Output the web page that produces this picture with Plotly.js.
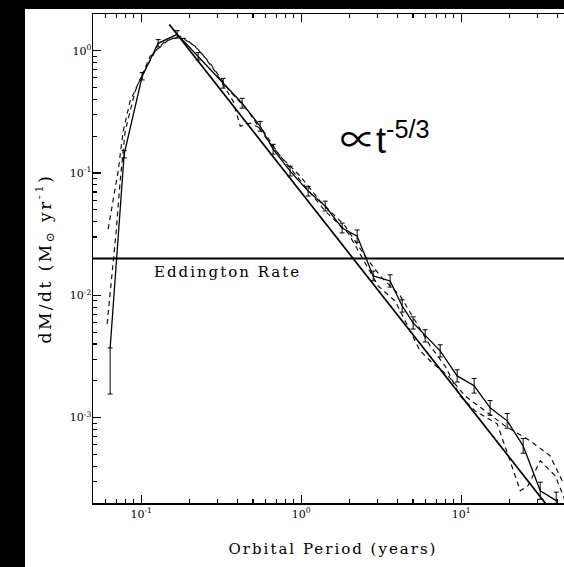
<!DOCTYPE html>
<html><head><meta charset="utf-8">
<script src="https://cdn.plot.ly/plotly-3.0.1.min.js"></script>
<style>
html,body{margin:0;padding:0;background:#000;overflow:hidden;width:564px;height:567px;}
#chart{position:absolute;left:25px;top:9px;width:548px;height:558px;}
#chart .xtitle{letter-spacing:2px;}
#chart .ytitle{letter-spacing:2.5px;}
#chart .annotation[data-index="0"] text{letter-spacing:2px;}
</style>
</head><body>
<div id="chart"></div>
<script>
// ---- data ----
// main simulation curve (solid, with error bars)
const simX = [0.0640,0.0783,0.1015,0.1277,0.168,0.227,0.3256,0.4276,0.5546,0.668,0.853,1.106,1.413,1.803,2.239,2.818,3.597,4.277,5.01,5.957,7.39,9.44,12.05,15.17,19.4,24.4,31.2,39.3];
const simY = [3.71e-3,0.1426,0.619,1.152,1.364,0.902,0.5427,0.3724,0.2415,0.1567,0.1037,0.0711,0.0537,0.0355,0.0305,0.0144,0.0131,8.18e-3,5.94e-3,4.66e-3,3.51e-3,2.19e-3,1.82e-3,1.2e-3,9.4e-4,5.87e-4,2.52e-4,2.09e-4];
// error bar half-lengths in dex
const simErrUpDex = [0,0.03,0.03,0.03,0.03,0.03,0.04,0.04,0.04,0.04,0.04,0.04,0.04,0.04,0.05,0.04,0.05,0.05,0.05,0.05,0.05,0.05,0.06,0.06,0.06,0.06,0.07,0.07];
const simErrDnDex = [0.377,0.03,0.03,0.03,0.03,0.03,0.04,0.04,0.04,0.04,0.04,0.04,0.04,0.04,0.05,0.04,0.05,0.05,0.05,0.05,0.05,0.05,0.06,0.06,0.06,0.06,0.07,0.07];
// dashed run B
const runBX = [0.0622,0.0668,0.0718,0.0772,0.0853,0.0986,0.1223,0.1518,0.1884,0.2338,0.29,0.3758,0.416,0.48,0.57,0.739,0.986,1.315,1.884,2.512,3.119,4.16,5.16,6.4,7.94,9.86,12.24,16.8,20.2,23.4,26.2,31.2,38.7,44.7];
const runBY = [0.0348,0.0589,0.1037,0.22,0.387,0.585,0.99,1.265,1.265,0.99,0.68,0.3867,0.2415,0.256,0.2285,0.1374,0.0944,0.0589,0.0368,0.0209,0.0144,9.9e-3,6.17e-3,3.86e-3,2.64e-3,1.5e-3,1.13e-3,8.88e-4,4.43e-4,2.52e-4,2.77e-4,4.43e-4,3.34e-4,2.09e-4];
// dashed run C
const runCX = [0.0613,0.0659,0.0698,0.0739,0.0794,0.0917,0.1138,0.1413,0.1753,0.2176,0.27,0.35,0.4667,0.622,0.83,1.059,1.413,1.967,2.512,3.03,3.87,4.8,5.54,6.59,8.3,10.6,14.1,18.8,27.0,36.0,42.8];
const runCY = [5.83e-3,0.0158,0.0335,0.0859,0.22,0.467,0.902,1.196,1.314,1.088,0.79,0.4847,0.3206,0.1823,0.114,0.0782,0.0489,0.0323,0.0184,0.0119,8.98e-3,5.11e-3,3.51e-3,2.8e-3,2.19e-3,1.5e-3,1.13e-3,8.55e-4,6.46e-4,4.86e-4,3.04e-4];
// t^-5/3 reference line
const fitX = [0.15, 40];
const fitY = [1.64, 1.49e-4];
const eddingtonRate = 0.02;
// axis ticks
const xMajor = [0.1, 1, 10];
const xMajorText = ['10<sup>-1</sup>','10<sup>0</sup>','10<sup>1</sup>'];
const xMinor = [0.05,0.06,0.07,0.08,0.09,0.2,0.3,0.4,0.5,0.6,0.7,0.8,0.9,2,3,4,5,6,7,8,9,20,30,40,50];
const yMajor = [1e-3, 1e-2, 1e-1, 1];
const yMajorText = ['10<sup>-3</sup>','10<sup>-2</sup>','10<sup>-1</sup>','10<sup>0</sup>'];
const yMinor = [2e-4,3e-4,4e-4,5e-4,6e-4,7e-4,8e-4,9e-4,2e-3,3e-3,4e-3,5e-3,6e-3,7e-3,8e-3,9e-3,0.02,0.03,0.04,0.05,0.06,0.07,0.08,0.09,0.2,0.3,0.4,0.5,0.6,0.7,0.8,0.9,2];

const errPlus = simY.map((v,i)=>v*(Math.pow(10,simErrUpDex[i])-1));
const errMinus = simY.map((v,i)=>v*(1-Math.pow(10,-simErrDnDex[i])));

const serif = 'DejaVu Serif, Liberation Serif, serif';
const traces = [
  {x: runBX, y: runBY, mode:'lines', line:{color:'#111', width:1.2, dash:'5px,4px'}, hoverinfo:'skip'},
  {x: runCX, y: runCY, mode:'lines', line:{color:'#111', width:1.2, dash:'5px,4px'}, hoverinfo:'skip'},
  {x: fitX, y: fitY, mode:'lines', line:{color:'#000', width:1.7}, hoverinfo:'skip'},
  {x: simX, y: simY, mode:'lines', line:{color:'#000', width:1.3},
   error_y:{type:'data', symmetric:false, array: errPlus, arrayminus: errMinus, color:'#000', thickness:1, width:2.5}}
];

const axisCommon = {
  type:'log', showgrid:false, zeroline:false, showline:true, linecolor:'#000', linewidth:1.5,
  mirror:'ticks', ticks:'inside', ticklen:8, tickwidth:1.2, tickcolor:'#000',
  tickfont:{family: serif, size:11, color:'#000'},
  minor:{tickvals:[], ticks:'inside', ticklen:4, tickwidth:1.1, tickcolor:'#000', showgrid:false}
};

const layout = {
  width:548, height:558,
  margin:{l:68, r:0, t:5, b:64},
  paper_bgcolor:'#fff', plot_bgcolor:'#fff',
  showlegend:false,
  xaxis: Object.assign({}, axisCommon, {
    range:[Math.log10(0.05), Math.log10(50)],
    tickmode:'array', tickvals:xMajor, ticktext:xMajorText, ticklabelstandoff:0,
    minor: Object.assign({}, axisCommon.minor, {tickvals:xMinor}),
    title:{text:'Orbital Period (years)', font:{family:serif, size:15, color:'#000'}, standoff:24}
  }),
  yaxis: Object.assign({}, axisCommon, {
    range:[Math.log10(2e-4), Math.log10(2)],
    tickmode:'array', tickvals:yMajor, ticktext:yMajorText, ticklabelstandoff:-2,
    minor: Object.assign({}, axisCommon.minor, {tickvals:yMinor}),
    title:{text:'dM/dt (M<sub>⊙</sub> yr<sup>-1</sup>)', font:{family:serif, size:17, color:'#000'}, standoff:14}
  }),
  shapes:[{type:'line', xref:'paper', x0:0, x1:1, yref:'y', y0:eddingtonRate, y1:eddingtonRate, line:{color:'#000', width:2}}],
  annotations:[
    {text:'Eddington Rate', xref:'paper', yref:'paper', x:0.1525, y:0.4724, xanchor:'left', yanchor:'middle', showarrow:false, font:{family:serif, size:15, color:'#000'}},
    {text:'<span style="font-family:Noto Sans CJK JP">∝</span>t<sup>-5/3</sup>', xref:'paper', yref:'paper', x:0.51, y:0.692, xanchor:'left', yanchor:'bottom', showarrow:false, font:{family:'Liberation Sans, Arial, sans-serif', size:36, color:'#000'}}
  ]
};

Plotly.newPlot('chart', traces, layout, {staticPlot:true, displayModeBar:false});
</script>
</body></html>
